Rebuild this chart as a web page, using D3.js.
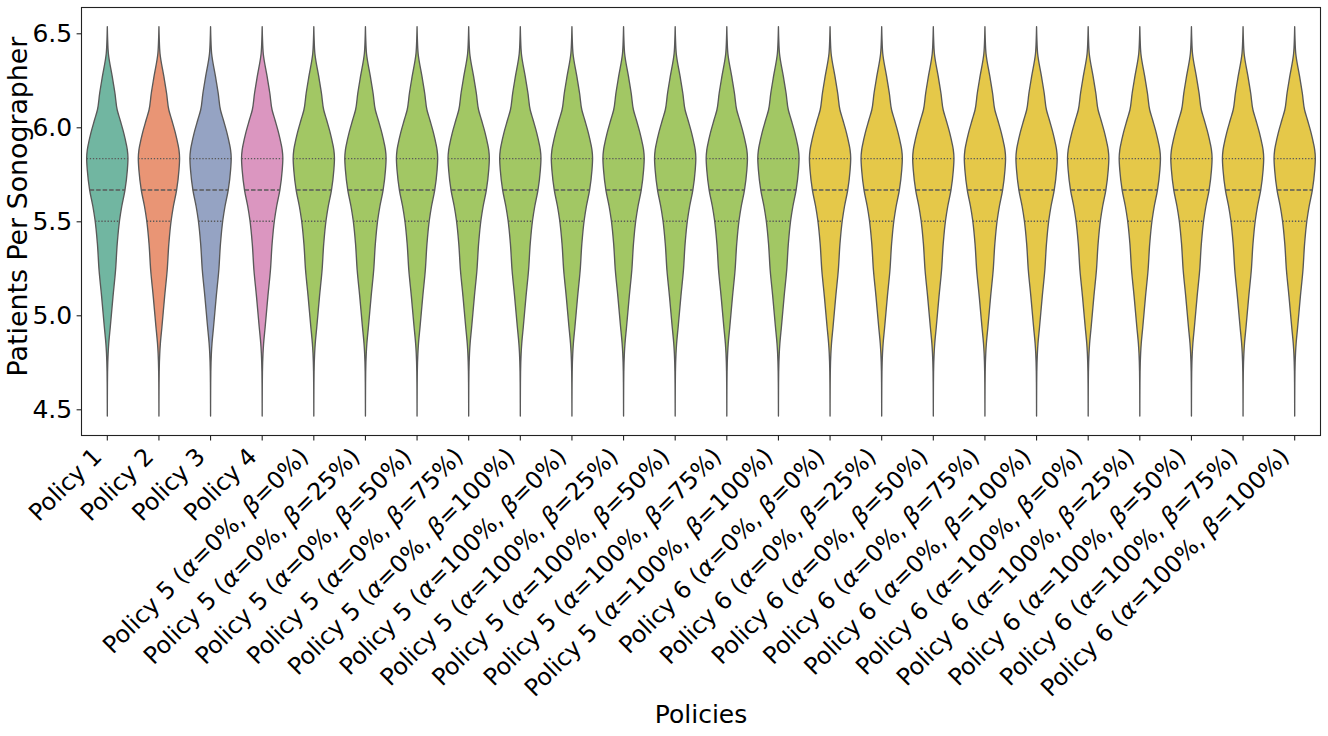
<!DOCTYPE html>
<html>
<head>
<meta charset="utf-8">
<script src="https://cdn.jsdelivr.net/npm/d3@7/dist/d3.min.js"></script>
<style>
  html, body { margin: 0; padding: 0; background: #fff; }
  svg { display: block; font-family: "DejaVu Sans", sans-serif; }
</style>
</head>
<body>
<svg id="chart" width="1328" height="736"></svg>
<script>
// ---- data ----
const categories = [
  ["Policy 1"], ["Policy 2"], ["Policy 3"], ["Policy 4"],
  ["Policy 5 (", "α", "=0%, ", "β", "=0%)"],
  ["Policy 5 (", "α", "=0%, ", "β", "=25%)"],
  ["Policy 5 (", "α", "=0%, ", "β", "=50%)"],
  ["Policy 5 (", "α", "=0%, ", "β", "=75%)"],
  ["Policy 5 (", "α", "=0%, ", "β", "=100%)"],
  ["Policy 5 (", "α", "=100%, ", "β", "=0%)"],
  ["Policy 5 (", "α", "=100%, ", "β", "=25%)"],
  ["Policy 5 (", "α", "=100%, ", "β", "=50%)"],
  ["Policy 5 (", "α", "=100%, ", "β", "=75%)"],
  ["Policy 5 (", "α", "=100%, ", "β", "=100%)"],
  ["Policy 6 (", "α", "=0%, ", "β", "=0%)"],
  ["Policy 6 (", "α", "=0%, ", "β", "=25%)"],
  ["Policy 6 (", "α", "=0%, ", "β", "=50%)"],
  ["Policy 6 (", "α", "=0%, ", "β", "=75%)"],
  ["Policy 6 (", "α", "=0%, ", "β", "=100%)"],
  ["Policy 6 (", "α", "=100%, ", "β", "=0%)"],
  ["Policy 6 (", "α", "=100%, ", "β", "=25%)"],
  ["Policy 6 (", "α", "=100%, ", "β", "=50%)"],
  ["Policy 6 (", "α", "=100%, ", "β", "=75%)"],
  ["Policy 6 (", "α", "=100%, ", "β", "=100%)"]
];
const groups = ["P1","P2","P3","P4","P5","P5","P5","P5","P5","P5","P5","P5","P5","P5",
                "P6","P6","P6","P6","P6","P6","P6","P6","P6","P6"];
const groupColors = {P1:"#71b6a1", P2:"#e99575", P3:"#95a3c3", P4:"#db96c0", P5:"#a2c764", P6:"#e5c849"};

// Density profile (value, relative density)
const profileValues  = [6.535, 6.47, 6.394, 6.269, 6.181, 6.092, 6.039, 5.968, 5.915, 5.879, 5.835, 5.773, 5.666, 5.58, 5.507, 5.381, 5.241, 5.099, 4.939, 4.851, 4.798, 4.70, 4.60, 4.464];
const profileDensity = [0.0,   0.015, 0.05, 0.24,  0.37,  0.48,  0.62,  0.80,  0.91,  0.97,  1.0,   0.97,  0.855, 0.70, 0.595, 0.48,  0.40,  0.275, 0.145, 0.07,  0.04,  0.012, 0.004, 0.0];

// Quartiles (same for every policy)
const quartiles = [5.5, 5.6667, 5.8333];

const yTicks = [4.5, 5.0, 5.5, 6.0, 6.5];

// ---- layout ----
const W = 1328, H = 736;
const plot = {left: 81.5, right: 1320.5, top: 7.5, bottom: 435.5};
const svg = d3.select("#chart");

const labelKeys = categories.map((c, i) => "c" + i);
const x = d3.scaleBand().domain(labelKeys).range([plot.left, plot.right]).padding(0);
const y = d3.scaleLinear().domain([4.3606, 6.6372]).range([plot.bottom, plot.top]);

const halfMax = x.bandwidth() * 0.8 / 2;
const lineColor = "#595959";

function densityAt(v) {
  for (let i = 0; i < profileValues.length - 1; i++) {
    const a = profileValues[i], b = profileValues[i + 1];
    if (v <= a && v >= b) {
      const t = (a - v) / (a - b);
      return profileDensity[i] + t * (profileDensity[i + 1] - profileDensity[i]);
    }
  }
  return 0;
}

const pts = profileValues.map((v, i) => ({v, d: profileDensity[i]}));

const g = svg.append("g");
labelKeys.forEach((k, i) => {
  const cx = x(k) + x.bandwidth() / 2;
  const area = d3.area()
    .y(p => y(p.v))
    .x0(p => cx - p.d * halfMax)
    .x1(p => cx + p.d * halfMax)
    .curve(d3.curveMonotoneY);
  g.append("path")
    .attr("d", area(pts))
    .attr("fill", groupColors[groups[i]])
    .attr("stroke", lineColor)
    .attr("stroke-width", 1.35)
    .attr("stroke-linejoin", "round");
  quartiles.forEach((q, qi) => {
    const w = densityAt(q) * halfMax;
    g.append("line")
      .attr("x1", cx - w).attr("x2", cx + w)
      .attr("y1", y(q)).attr("y2", y(q))
      .attr("stroke", lineColor)
      .attr("stroke-width", 1.35)
      .attr("stroke-dasharray", qi === 1 ? "4.5,2" : "1.3,1.8");
  });
});

// ---- axes ----
const yAxis = d3.axisLeft(y).tickValues(yTicks).tickFormat(d3.format(".1f")).tickSize(4.9).tickPadding(4.4);
const ya = svg.append("g").attr("transform", `translate(${plot.left},0)`).call(yAxis);
ya.select(".domain").remove();
ya.selectAll(".tick line").attr("stroke", "#222").attr("stroke-width", 1.1);
ya.selectAll(".tick text").attr("font-size", 25).attr("fill", "#000").attr("font-family", "DejaVu Sans");

const xAxis = d3.axisBottom(x).tickSize(4.9).tickFormat("");
const xa = svg.append("g").attr("transform", `translate(0,${plot.bottom})`).call(xAxis);
xa.select(".domain").remove();
xa.selectAll(".tick line").attr("stroke", "#222").attr("stroke-width", 1.1);

// rotated tick labels
const fs = 23.8;
labelKeys.forEach((k, i) => {
  const cx = x(k) + x.bandwidth() / 2;
  const bx = cx - 0.707 * 0.24 * fs;
  const by = plot.bottom + 9.7 + 0.707 * 0.76 * fs;
  const t = svg.append("text")
    .attr("transform", `translate(${bx},${by}) rotate(-45)`)
    .attr("text-anchor", "end")
    .attr("font-size", fs)
    .attr("fill", "#000");
  categories[i].forEach((part, pi) => {
    const ts = t.append("tspan").text(part);
    if (part === "α" || part === "β") ts.attr("font-style", "italic");
  });
});

// frame
svg.append("rect")
  .attr("x", plot.left).attr("y", plot.top)
  .attr("width", plot.right - plot.left).attr("height", plot.bottom - plot.top)
  .attr("fill", "none").attr("stroke", "#222").attr("stroke-width", 1.1);

// axis titles
svg.append("text")
  .attr("x", 701).attr("y", 722.5)
  .attr("text-anchor", "middle").attr("font-size", 25).attr("fill", "#000")
  .text("Policies");
svg.append("text")
  .attr("transform", `translate(26.5,206.5) rotate(-90)`)
  .attr("text-anchor", "middle").attr("font-size", 26.8).attr("fill", "#000")
  .text("Patients Per Sonographer");
</script>
</body>
</html>
